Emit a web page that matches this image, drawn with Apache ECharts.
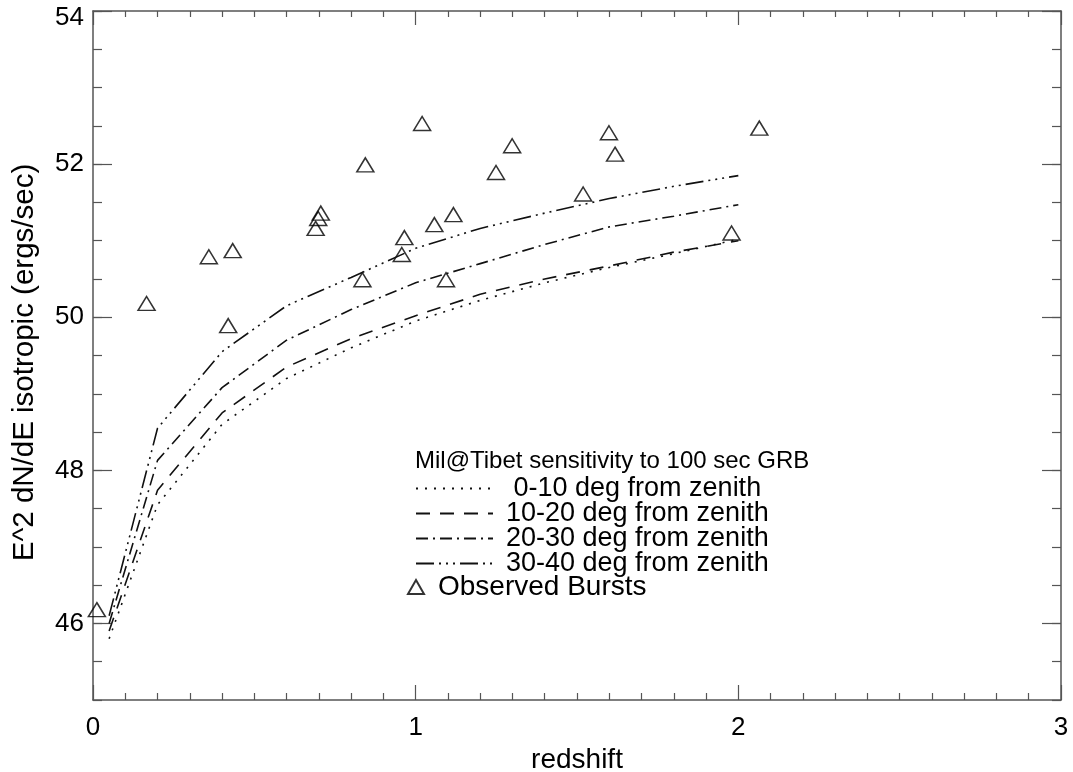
<!DOCTYPE html>
<html>
<head>
<meta charset="utf-8">
<script src="https://cdn.jsdelivr.net/npm/echarts@6/dist/echarts.min.js"></script>
<style>
  html, body { margin: 0; padding: 0; background: #fff; }
  #chart { width: 1073px; height: 772px; }
</style>
</head>
<body>
<div id="chart"></div>
<script>
// sensitivity curves, sampled on a redshift grid
const redshiftGrid = [0.05, 0.2, 0.4, 0.6, 0.8, 1.0, 1.2, 1.4, 1.6, 1.8, 2.0]
const sens0to10 = [45.8, 47.55, 48.6, 49.2, 49.6, 49.95, 50.22, 50.45, 50.65, 50.83, 51.02]
const sens10to20 = [45.9, 47.74, 48.75, 49.35, 49.72, 50.02, 50.3, 50.5, 50.67, 50.85, 51.0]
const sens20to30 = [46.0, 48.13, 49.08, 49.7, 50.1, 50.45, 50.7, 50.95, 51.18, 51.32, 51.47]
const sens30to40 = [46.1, 48.55, 49.55, 50.15, 50.52, 50.9, 51.16, 51.36, 51.55, 51.71, 51.85]
const curveNames = ['0-10 deg from zenith', '10-20 deg from zenith', '20-30 deg from zenith', '30-40 deg from zenith']

// observed bursts
const burstZ = [0.012, 0.166, 0.359, 0.433, 0.419, 0.69, 0.698, 0.706, 0.844, 1.02, 0.835, 0.965,
    0.957, 1.058, 1.117, 1.094, 1.299, 1.249, 1.599, 1.618, 1.519, 2.065, 1.979]
const burstE = [46.18, 50.18, 50.79, 50.87, 49.89, 51.16, 51.29, 51.36, 51.99, 52.53, 50.49, 51.04,
    50.82, 51.21, 51.34, 50.49, 52.24, 51.89, 52.41, 52.13, 51.61, 52.47, 51.1]

const yMajor = [46, 48, 50, 52, 54]

const font = 'Liberation Sans'
const ink = '#111'
const axisGray = '#555'

const dashes = [[2, 7], [14, 10], [12, 5, 2, 5], [18, 5, 2, 5, 2, 5, 2, 5]]
const curves = [sens0to10, sens10to20, sens20to30, sens30to40]

const myChart = echarts.init(document.getElementById('chart'))

const baseX = {
    type: 'value',
    min: 0,
    max: 3,
    interval: 1,
    axisLine: {lineStyle: {color: axisGray, width: 1.5}},
    axisTick: {inside: true, length: 15, lineStyle: {color: axisGray, width: 1.2}},
    minorTick: {show: true, splitNumber: 10, length: 7, lineStyle: {color: axisGray, width: 1.2}},
    splitLine: {show: false},
}

const minorY = (position, showLabel) => ({
    type: 'value',
    position,
    min: 45,
    max: 54,
    interval: 0.5,
    axisLine: {show: true, lineStyle: {color: axisGray, width: 1.5}},
    axisTick: {inside: true, length: 9, lineStyle: {color: axisGray, width: 1.2}},
    splitLine: {show: false},
    axisLabel: showLabel
        ? {
              show: true,
              color: '#000',
              fontFamily: font,
              fontSize: 26,
              margin: 9,
              formatter(v) {
                  if (yMajor.indexOf(v) < 0) return ''
                  return v === 54 ? '{top|54}' : String(v)
              },
              rich: {top: {fontFamily: font, fontSize: 26, color: '#000', padding: [14, 0, 0, 0]}},
          }
        : {show: false},
    name: showLabel ? 'E^2 dN/dE isotropic (ergs/sec)' : '',
    nameLocation: 'middle',
    nameGap: 53,
    nameTextStyle: {fontFamily: font, fontSize: 29.5, color: '#000', padding: [0, 14, 0, 0]},
})

const majorY = (position) => ({
    type: 'value',
    position,
    min: 45,
    max: 54,
    axisLine: {show: false},
    axisTick: {inside: true, length: 19, customValues: yMajor, lineStyle: {color: axisGray, width: 1.2}},
    axisLabel: {show: false},
    splitLine: {show: false},
})

myChart.setOption({
    backgroundColor: '#fff',
    animation: false,
    grid: {left: 93, right: 12, top: 11, bottom: 72, containLabel: false, outerBoundsMode: 'none'},
    title: {
        text: 'Mil@Tibet sensitivity to 100 sec GRB',
        left: 415,
        top: 449,
        padding: 0,
        textStyle: {fontFamily: font, fontSize: 24, fontWeight: 'normal', color: '#000'},
    },
    legend: [
        {
            data: curveNames,
            orient: 'vertical',
            left: 415,
            top: 475,
            padding: 0,
            itemWidth: 77,
            itemHeight: 14,
            itemGap: -2,
            itemStyle: {opacity: 0},
            formatter(name) {
                return name === curveNames[0] ? ' ' + name : name
            },
            textStyle: {fontFamily: font, fontSize: 27, color: '#000', lineHeight: 25, padding: [0, 0, 0, 8]},
        },
        {
            data: ['Observed Bursts'],
            orient: 'vertical',
            left: 407,
            top: 573,
            padding: 0,
            itemWidth: 16,
            itemHeight: 14,
            textStyle: {fontFamily: font, fontSize: 28, color: '#000', lineHeight: 25, padding: [0, 0, 0, 9]},
        },
    ],
    xAxis: [
        Object.assign({}, baseX, {
            position: 'bottom',
            axisLabel: {color: '#000', fontFamily: font, fontSize: 26, margin: 15},
            name: 'redshift',
            nameLocation: 'middle',
            nameGap: 44,
            nameTextStyle: {fontFamily: font, fontSize: 28, color: '#000'},
        }),
        Object.assign({}, baseX, {
            position: 'top',
            axisLabel: {show: false},
            axisTick: {inside: true, length: 14, lineStyle: {color: axisGray, width: 1.2}},
            minorTick: {show: true, splitNumber: 10, length: 6, lineStyle: {color: axisGray, width: 1.2}},
        }),
    ],
    yAxis: [minorY('left', true), majorY('left'), minorY('right', false), majorY('right')],
    series: curves
        .map((vals, i) => ({
            name: curveNames[i],
            type: 'line',
            xAxisIndex: 0,
            yAxisIndex: 0,
            symbol: 'none',
            showSymbol: false,
            data: redshiftGrid.map((z, k) => [z, vals[k]]),
            lineStyle: {color: ink, width: 1.6, type: dashes[i]},
            itemStyle: {color: ink},
        }))
        .concat([
            {
                name: 'Observed Bursts',
                type: 'scatter',
                xAxisIndex: 0,
                yAxisIndex: 0,
                symbol: 'triangle',
                symbolSize: [17, 14],
                clip: false,
                data: burstZ.map((z, k) => [z, burstE[k]]),
                itemStyle: {color: 'rgba(0,0,0,0)', borderColor: '#000', borderWidth: 1.5},
            },
        ]),
})
</script>
</body>
</html>
